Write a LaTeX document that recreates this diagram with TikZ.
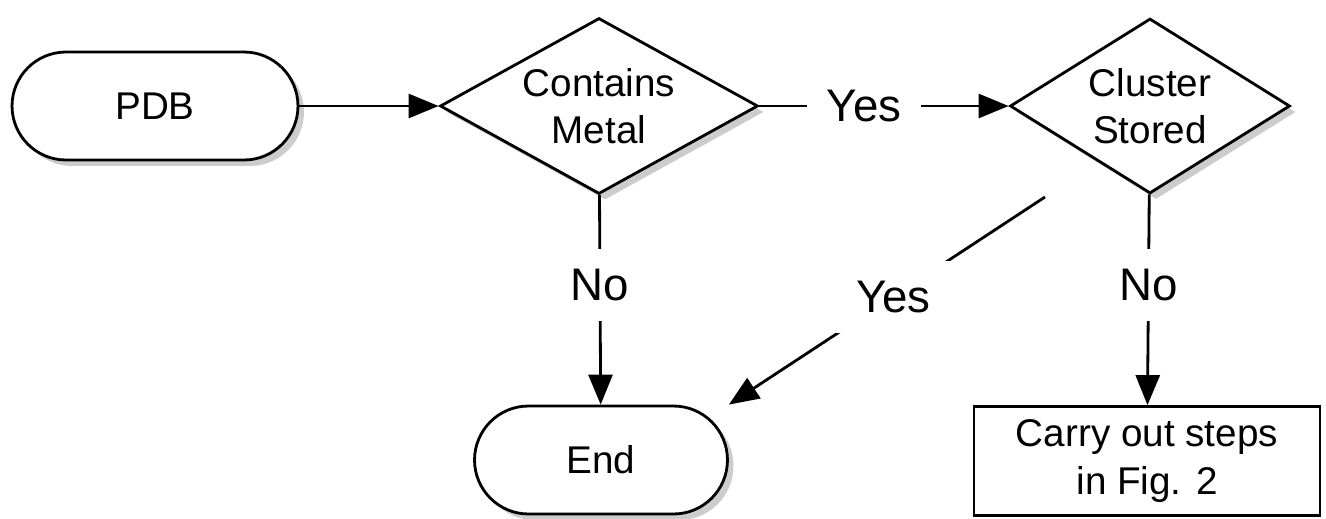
\documentclass[tikz,border=0pt]{standalone}
\usepackage{fontspec}
\setmainfont{Liberation Sans}
\usetikzlibrary{arrows.meta, shapes.geometric, shadows}

\begin{document}
\begin{tikzpicture}[x=0.02cm, y=-0.02cm, line width=1.6pt,
  every node/.style={font=\fontsize{22}{27}\selectfont, align=center},
  shade/.style={drop shadow={shadow xshift=0.12cm, shadow yshift=-0.12cm, opacity=0.4}},
  term/.style={draw, fill=white, shade, rounded corners=1.08cm, minimum height=2.16cm},
  decision/.style={diamond, draw, fill=white, shade, inner sep=0pt, aspect=1.8},
  stepbox/.style={draw, fill=white, minimum width=6.92cm, minimum height=2.18cm},
  lbl/.style={fill=white, inner sep=0.4cm, font=\fontsize{26}{30}\selectfont},
  arr/.style={-{Triangle[length=0.6cm, width=0.48cm]}}]
  \useasboundingbox (0,0) rectangle (1326,518);
  % shapes
  \node[term, minimum width=5.72cm] (pdb) at (155,106) {PDB};
  \node[decision, minimum width=6.36cm, minimum height=3.52cm] (metal) at (599,106) {Contains\\Metal};
  \node[decision, minimum width=5.6cm, minimum height=3.5cm] (cluster) at (1150,106) {Cluster\\Stored};
  \node[term, minimum width=5.06cm] (end) at (601,460) {End};
  \node[stepbox] (steps) at (1147,461) {Carry out steps\\in Fig. 2};
  \coordinate (stored) at (1045,197);
  % connectors
  \draw[arr] (pdb) -- (metal);
  \draw[arr] (metal) -- node[lbl, pos=0.42] {Yes} (cluster);
  \draw[arr] (metal) -- node[lbl, pos=0.43] {No} (end);
  \draw[arr] (stored) -- node[lbl, pos=0.48] {Yes} (end.north east);
  \draw[arr] (cluster) -- node[lbl, pos=0.43] {No} (steps);
\end{tikzpicture}
\end{document}
